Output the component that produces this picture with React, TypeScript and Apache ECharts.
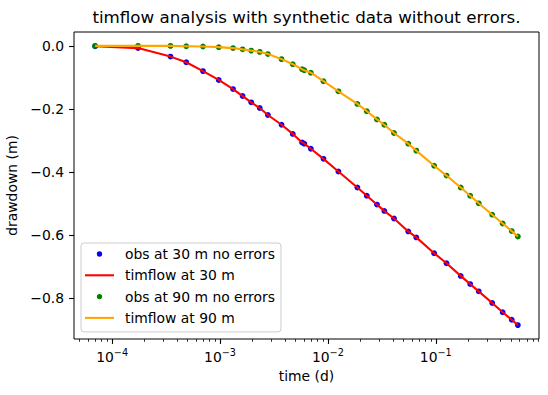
import { useEffect, useRef } from "react";
import * as echarts from "echarts";

// Observation times, minutes after pumping started
const timesMin = [
  0.1, 0.25, 0.5, 0.7, 1.0, 1.4, 1.9, 2.33, 2.8, 3.36, 4.0, 5.35, 6.8, 8.3,
  8.7, 10, 13.1, 18, 27, 33, 41, 48, 59, 80, 95, 139, 181, 245, 300, 360, 480,
  600, 728, 830,
];

// Synthetic drawdown (m) at the well 30 m away
const drawdown30 = [
  -0.001, -0.007, -0.034, -0.052, -0.08, -0.108, -0.137, -0.159, -0.179,
  -0.197, -0.219, -0.25, -0.279, -0.306, -0.31, -0.326, -0.358, -0.398, -0.449,
  -0.475, -0.503, -0.523, -0.547, -0.588, -0.607, -0.657, -0.689, -0.729,
  -0.755, -0.778, -0.815, -0.844, -0.868, -0.885,
];

// Synthetic drawdown (m) at the well 90 m away
const drawdown90 = [
  0.0, 0.0, 0.0, -0.001, -0.002, -0.004, -0.007, -0.011, -0.015, -0.019,
  -0.026, -0.042, -0.058, -0.074, -0.077, -0.085, -0.112, -0.144, -0.184,
  -0.207, -0.233, -0.25, -0.276, -0.31, -0.332, -0.38, -0.411, -0.449, -0.475,
  -0.499, -0.535, -0.563, -0.587, -0.604,
];

// Axis ticks
const xTickExponents = [-4, -3, -2, -1];
const yTickValues = [0, -0.2, -0.4, -0.6, -0.8];

const X_MIN = 4.426e-5;
const X_MAX = 0.905;
const Y_MIN = -0.929;
const Y_MAX = 0.044;

const FONT = "DejaVu Sans";
const FS = 13.9;

const toDays = (m: number) => m / 1440;
const pairs = (values: number[]) =>
  timesMin.map((m, i) => [toDays(m), values[i]]);

const LX_MIN = Math.log10(X_MIN);
const LX_MAX = Math.log10(X_MAX);

// minor ticks at 2..9 within each decade
const minorTickExps: number[] = [];
for (let d = -5; d <= 0; d++) {
  for (let k = 2; k <= 9; k++) {
    const e = d + Math.log10(k);
    if (e > LX_MIN && e < LX_MAX) minorTickExps.push(e);
  }
}

// legend handles drawn inside a 29x14 box
const DOT_ICON =
  "path://M0 0M29 14M11.85 7a2.65 2.65 0 1 0 5.3 0a2.65 2.65 0 1 0 -5.3 0Z";
const LINE_ICON = "path://M0 0M29 14M0 5.96h29v2.08h-29Z";

const fmtY = (v: number) => {
  const r = Math.round(v * 10) / 10;
  return (r < 0 ? "\u2212" : "") + Math.abs(r).toFixed(1);
};

export default function App() {
  const ref = useRef<HTMLDivElement>(null);

  useEffect(() => {
    if (!ref.current) return;
    const chart = echarts.init(ref.current, undefined, { renderer: "svg" });

    const tickLine = { color: "#000", width: 1.1 };

    chart.setOption({
      animation: false,
      backgroundColor: "#ffffff",
      textStyle: { fontFamily: FONT },
      title: {
        text: "timflow analysis with synthetic data without errors.",
        left: 306.5,
        top: 7,
        textAlign: "center",
        padding: 0,
        textStyle: {
          fontFamily: FONT,
          fontSize: 16.7,
          fontWeight: "normal",
          color: "#000",
          lineHeight: 20,
        },
      },
      grid: {
        left: 74,
        right: 9,
        top: 32,
        bottom: 56,
        show: true,
        borderColor: "#000",
        borderWidth: 1,
        containLabel: false,
        outerBoundsMode: "none",
      },
      legend: {
        orient: "vertical",
        left: 81,
        top: 243,
        itemWidth: 29,
        itemHeight: 14,
        itemGap: 7.3,
        padding: [4, 6, 7, 4],
        borderColor: "#cccccc",
        borderWidth: 1,
        borderRadius: 3,
        backgroundColor: "rgba(255,255,255,0.8)",
        itemStyle: { borderWidth: 0, opacity: 1 },
        textStyle: {
          fontFamily: FONT,
          fontSize: FS,
          color: "#000",
          padding: [0, 0, 0, 6],
        },
        data: [
          { name: "obs at 30 m no errors", icon: DOT_ICON },
          { name: "timflow at 30 m", icon: LINE_ICON },
          { name: "obs at 90 m no errors", icon: DOT_ICON },
          { name: "timflow at 90 m", icon: LINE_ICON },
        ],
      },
      xAxis: [
        {
          // data axis (logarithmic time)
          type: "log",
          min: X_MIN,
          max: X_MAX,
          show: false,
        },
        {
          // decade ticks and labels
          type: "value",
          min: LX_MIN,
          max: LX_MAX,
          position: "bottom",
          name: "time (d)",
          nameLocation: "middle",
          nameGap: 29,
          nameTextStyle: { fontFamily: FONT, fontSize: FS, color: "#000" },
          axisLine: { show: false },
          splitLine: { show: false },
          axisTick: {
            show: true,
            inside: false,
            length: 4.9,
            lineStyle: tickLine,
            customValues: xTickExponents,
          },
          axisLabel: {
            show: true,
            margin: 8,
            customValues: xTickExponents,
            formatter: (v: number) =>
              `{b|10}{e|\u2212${Math.abs(Math.round(v))}}`,
            rich: {
              b: {
                fontFamily: FONT,
                fontSize: FS,
                color: "#000",
                lineHeight: 20,
              },
              e: {
                fontFamily: FONT,
                fontSize: 9.7,
                color: "#000",
                lineHeight: 12,
                verticalAlign: "top",
              },
            },
          },
        },
        {
          // minor ticks
          type: "value",
          min: LX_MIN,
          max: LX_MAX,
          position: "bottom",
          axisLine: { show: false },
          splitLine: { show: false },
          axisLabel: { show: false },
          axisTick: {
            show: true,
            inside: false,
            length: 2.8,
            lineStyle: { color: "#000", width: 0.8 },
            customValues: minorTickExps,
          },
        },
      ],
      yAxis: {
        type: "value",
        min: Y_MIN,
        max: Y_MAX,
        name: "drawdown (m)",
        nameLocation: "middle",
        nameGap: 44,
        nameRotate: 90,
        nameTextStyle: { fontFamily: FONT, fontSize: FS, color: "#000" },
        axisLine: { show: false },
        splitLine: { show: false },
        axisTick: {
          show: true,
          inside: false,
          length: 4.9,
          lineStyle: tickLine,
          customValues: yTickValues,
        },
        axisLabel: {
          margin: 10,
          customValues: yTickValues,
          formatter: fmtY,
          fontFamily: FONT,
          fontSize: FS,
          color: "#000",
        },
      },
      series: [
        {
          name: "obs at 30 m no errors",
          type: "scatter",
          xAxisIndex: 0,
          data: pairs(drawdown30),
          symbol: "circle",
          symbolSize: 5.8,
          itemStyle: { color: "#0000ff", opacity: 1 },
        },
        {
          name: "timflow at 30 m",
          type: "line",
          xAxisIndex: 0,
          data: pairs(drawdown30),
          symbol: "none",
          showSymbol: false,
          lineStyle: { color: "#ff0000", width: 2.08 },
          itemStyle: { color: "#ff0000", borderWidth: 0 },
        },
        {
          name: "obs at 90 m no errors",
          type: "scatter",
          xAxisIndex: 0,
          data: pairs(drawdown90),
          symbol: "circle",
          symbolSize: 5.8,
          itemStyle: { color: "#008000", opacity: 1 },
        },
        {
          name: "timflow at 90 m",
          type: "line",
          xAxisIndex: 0,
          data: pairs(drawdown90),
          symbol: "none",
          showSymbol: false,
          lineStyle: { color: "#ffa500", width: 2.08 },
          itemStyle: { color: "#ffa500", borderWidth: 0 },
        },
      ],
    });

    return () => chart.dispose();
  }, []);

  return (
    <div
      ref={ref}
      style={{ position: "fixed", left: 0, top: 0, width: 548, height: 395 }}
    />
  );
}
